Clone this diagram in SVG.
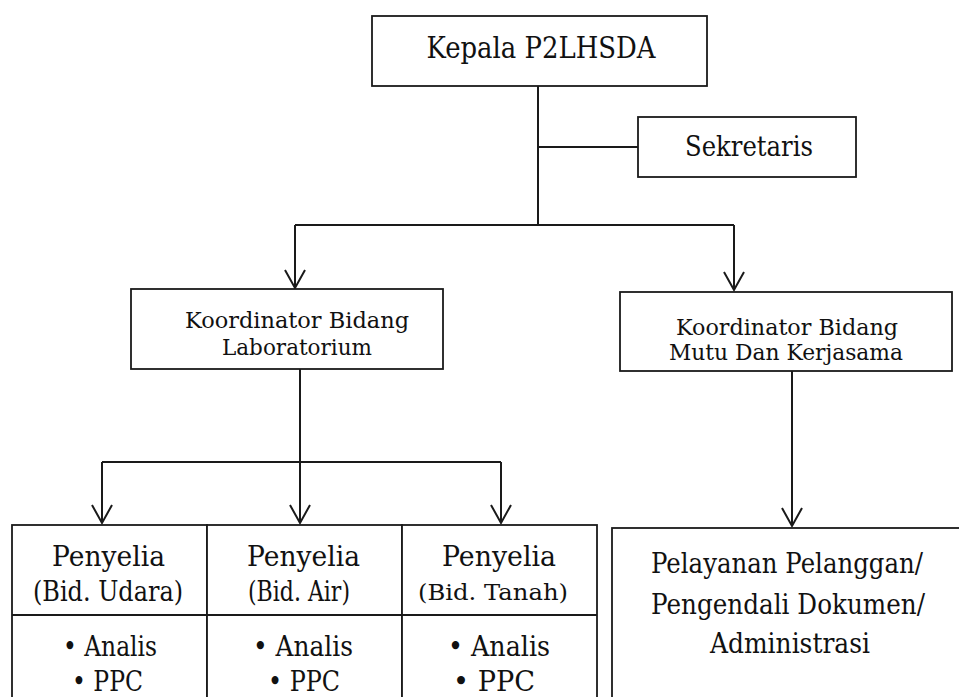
<svg xmlns="http://www.w3.org/2000/svg" width="959" height="697" viewBox="0 0 959 697">
<style>
.box{fill:#fff;stroke:#1a1a1a;stroke-width:1.8}
.ln{fill:none;stroke:#1a1a1a;stroke-width:2}
.t{font-family:"DejaVu Serif","Liberation Serif",serif;fill:#111;text-anchor:middle}
</style>
<rect width="959" height="697" fill="#fff"/>
<g id="connectors">
<path class="ln" d="M538 86V225M538 147H638M295 225H734M295 225V288M734 225V290M300 362V462M102 462H501M102 462V523M300 462V523M501 462V523M792 362V526"/>
<path class="ln" d="M285 270L295 288L305 270M724 272L734 290L744 272M92 505L102 523L112 505M290 505L300 523L310 505M491 505L501 523L511 505M782 508L792 526L802 508"/>
</g>
<g id="kepala">
<rect class="box" x="372" y="16" width="335" height="70"/>
<text class="t" x="541" y="58" font-size="30" textLength="229" lengthAdjust="spacingAndGlyphs">Kepala P2LHSDA</text>
</g>
<g id="sekretaris">
<rect class="box" x="638" y="117" width="218" height="60"/>
<text class="t" x="749" y="156" font-size="28" textLength="128" lengthAdjust="spacingAndGlyphs">Sekretaris</text>
</g>
<g id="koord-lab">
<rect class="box" x="131" y="289" width="312" height="80"/>
<text class="t" x="297" y="328" font-size="23" textLength="224" lengthAdjust="spacingAndGlyphs">Koordinator Bidang</text>
<text class="t" x="297" y="355" font-size="23" textLength="150" lengthAdjust="spacingAndGlyphs">Laboratorium</text>
</g>
<g id="koord-mutu">
<rect class="box" x="620" y="292" width="332" height="79"/>
<text class="t" x="787" y="335" font-size="23" textLength="222" lengthAdjust="spacingAndGlyphs">Koordinator Bidang</text>
<text class="t" x="786" y="360" font-size="23" textLength="234" lengthAdjust="spacingAndGlyphs">Mutu Dan Kerjasama</text>
</g>
<g id="penyelia-udara">
<rect class="box" x="12" y="525" width="195" height="200"/>
<line class="ln" x1="12" y1="615" x2="207" y2="615"/>
<text class="t" x="108.5" y="566" font-size="27" textLength="113" lengthAdjust="spacingAndGlyphs">Penyelia</text>
<text class="t" x="108" y="601" font-size="27" textLength="150" lengthAdjust="spacingAndGlyphs">(Bid. Udara)</text>
<text class="t" x="110" y="656" font-size="27" textLength="94" lengthAdjust="spacingAndGlyphs">• Analis</text>
<text class="t" x="107.5" y="691" font-size="27" textLength="71" lengthAdjust="spacingAndGlyphs">• PPC</text>
</g>
<g id="penyelia-air">
<rect class="box" x="207" y="525" width="195" height="200"/>
<line class="ln" x1="207" y1="615" x2="402" y2="615"/>
<text class="t" x="303.5" y="566" font-size="27" textLength="113" lengthAdjust="spacingAndGlyphs">Penyelia</text>
<text class="t" x="299" y="601" font-size="27" textLength="102" lengthAdjust="spacingAndGlyphs">(Bid. Air)</text>
<text class="t" x="303" y="656" font-size="27" textLength="100" lengthAdjust="spacingAndGlyphs">• Analis</text>
<text class="t" x="304" y="691" font-size="27" textLength="72" lengthAdjust="spacingAndGlyphs">• PPC</text>
</g>
<g id="penyelia-tanah">
<rect class="box" x="402" y="525" width="195" height="200"/>
<line class="ln" x1="402" y1="615" x2="597" y2="615"/>
<text class="t" x="499" y="566" font-size="27" textLength="114" lengthAdjust="spacingAndGlyphs">Penyelia</text>
<text class="t" x="493" y="600" font-size="23" textLength="150" lengthAdjust="spacingAndGlyphs">(Bid. Tanah)</text>
<text class="t" x="499" y="656" font-size="27" textLength="102" lengthAdjust="spacingAndGlyphs">• Analis</text>
<text class="t" x="494" y="691" font-size="27" textLength="82" lengthAdjust="spacingAndGlyphs">• PPC</text>
</g>
<g id="pelayanan">
<rect class="box" x="612" y="528" width="360" height="200"/>
<text class="t" x="787" y="573" font-size="27" textLength="272" lengthAdjust="spacingAndGlyphs">Pelayanan Pelanggan/</text>
<text class="t" x="788" y="614" font-size="27" textLength="274" lengthAdjust="spacingAndGlyphs">Pengendali Dokumen/</text>
<text class="t" x="790" y="653" font-size="27" textLength="160" lengthAdjust="spacingAndGlyphs">Administrasi</text>
</g>
</svg>
